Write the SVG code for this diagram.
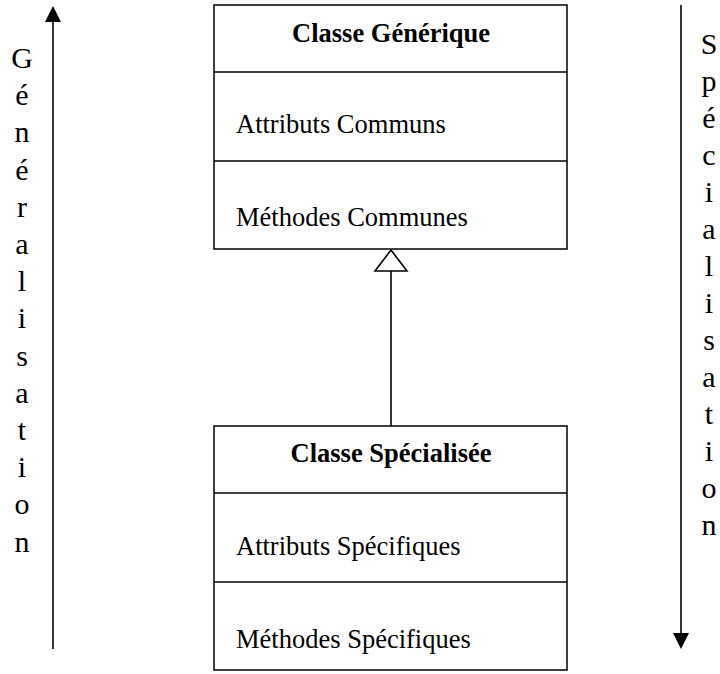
<svg xmlns="http://www.w3.org/2000/svg" width="720" height="674" viewBox="0 0 720 674">
<style>
.box{fill:#fff;stroke:#000;stroke-width:1.5}
.div{stroke:#000;stroke-width:1.5}
.t{font-family:"Liberation Serif","Times New Roman",serif;font-size:26.5px;fill:#000}
.b{font-weight:bold;text-anchor:middle}
.v{font-family:"Liberation Serif","Times New Roman",serif;font-size:30px;fill:#000;text-anchor:middle}
.ln{stroke:#000;stroke-width:1.6;fill:none}
</style>
<rect width="720" height="674" fill="#fff"/>
<g id="generalisation">
<line class="ln" x1="53" y1="20" x2="53" y2="649"/>
<polygon points="53,6 45,22 61,22" fill="#000"/>
<text class="v" x="22" y="68"><tspan x="22">G</tspan><tspan x="22" dy="37.2">é</tspan><tspan x="22" dy="37.2">n</tspan><tspan x="22" dy="37.2">é</tspan><tspan x="22" dy="37.2">r</tspan><tspan x="22" dy="37.2">a</tspan><tspan x="22" dy="37.2">l</tspan><tspan x="22" dy="37.2">i</tspan><tspan x="22" dy="37.2">s</tspan><tspan x="22" dy="37.2">a</tspan><tspan x="22" dy="37.2">t</tspan><tspan x="22" dy="37.2">i</tspan><tspan x="22" dy="37.2">o</tspan><tspan x="22" dy="37.2">n</tspan></text>
</g>
<g id="specialisation">
<line class="ln" x1="681" y1="5" x2="681" y2="634"/>
<polygon points="681,649 673,633 689,633" fill="#000"/>
<text class="v" x="709" y="54"><tspan x="709">S</tspan><tspan x="709" dy="37">p</tspan><tspan x="709" dy="37">é</tspan><tspan x="709" dy="37">c</tspan><tspan x="709" dy="37">i</tspan><tspan x="709" dy="37">a</tspan><tspan x="709" dy="37">l</tspan><tspan x="709" dy="37">i</tspan><tspan x="709" dy="37">s</tspan><tspan x="709" dy="37">a</tspan><tspan x="709" dy="37">t</tspan><tspan x="709" dy="37">i</tspan><tspan x="709" dy="37">o</tspan><tspan x="709" dy="37">n</tspan></text>
</g>
<g id="classe-generique">
<rect class="box" x="214" y="5" width="353" height="244"/>
<line class="div" x1="214" y1="72" x2="567" y2="72"/>
<line class="div" x1="214" y1="161" x2="567" y2="161"/>
<text class="t b" x="391" y="42">Classe Générique</text>
<text class="t" x="236" y="133">Attributs Communs</text>
<text class="t" x="236" y="226">Méthodes Communes</text>
</g>
<g id="classe-specialisee">
<rect class="box" x="214" y="426" width="353" height="244"/>
<line class="div" x1="214" y1="493" x2="567" y2="493"/>
<line class="div" x1="214" y1="582" x2="567" y2="582"/>
<text class="t b" x="391" y="462">Classe Spécialisée</text>
<text class="t" x="236" y="555">Attributs Spécifiques</text>
<text class="t" x="236" y="648">Méthodes Spécifiques</text>
</g>
<g id="connectors">
<line class="ln" x1="391" y1="271" x2="391" y2="426"/>
<polygon points="391,250 375,271 407,271" fill="#fff" stroke="#000" stroke-width="1.6"/>
</g>
</svg>
